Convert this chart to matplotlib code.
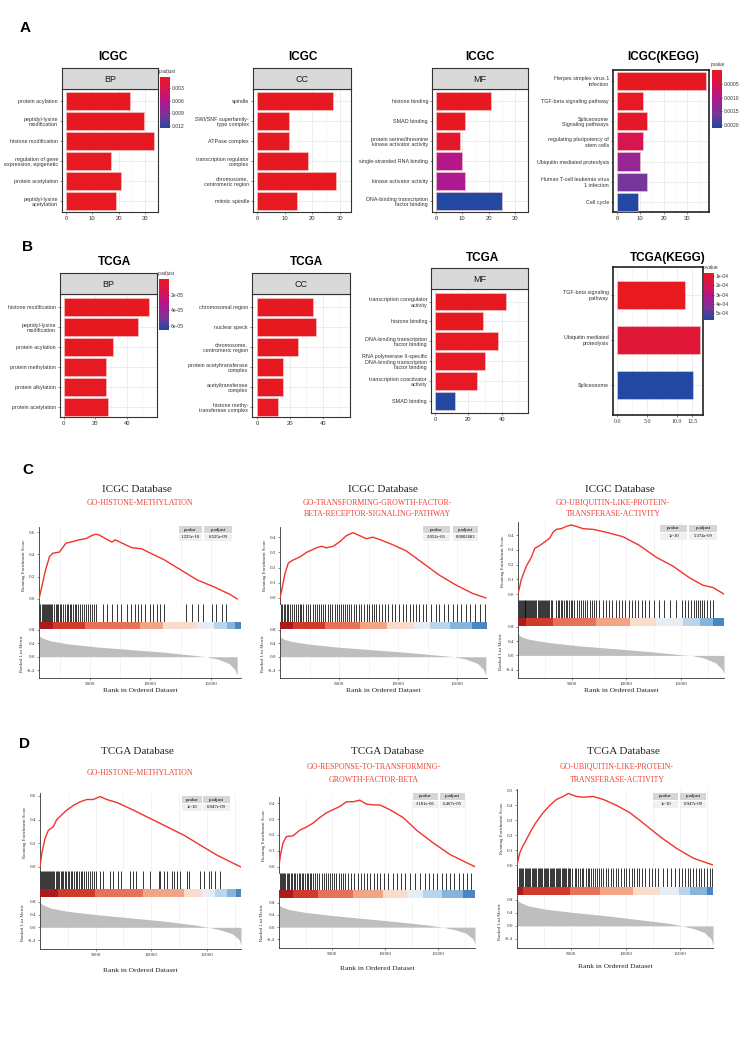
import numpy as np
import matplotlib
matplotlib.use('Agg')
import matplotlib.pyplot as plt
from matplotlib.colors import LinearSegmentedColormap, Normalize
from matplotlib.patches import Rectangle

# ---------------- DATA ----------------
A_BP_terms = ['protein acylation', 'peptidyl-lysine\nmodification', 'histone modification',
              'regulation of gene\nexpression, epigenetic', 'protein acetylation', 'peptidyl-lysine\nacetylation']
A_BP_count = [24.5, 29.5, 33.5, 17, 21, 19]
A_BP_padj = [0.0005, 0.0005, 0.0005, 0.0006, 0.0006, 0.0006]

A_CC_terms = ['spindle', 'SWI/SNF superfamily-\ntype complex', 'ATPase complex',
              'transcription regulator\ncomplex', 'chromosome,\ncentromeric region', 'mitotic spindle']
A_CC_count = [27.5, 11.5, 11.5, 18.5, 28.5, 14.5]
A_CC_padj = [0.0005, 0.0005, 0.0005, 0.0005, 0.0005, 0.0006]

A_MF_terms = ['histone binding', 'SMAD binding', 'protein serine/threonine\nkinase activator activity',
              'single-stranded RNA binding', 'kinase activator activity', 'DNA-binding transcription\nfactor binding']
A_MF_count = [21, 11, 9, 10, 11, 25]
A_MF_padj = [0.0005, 0.0007, 0.0012, 0.0062, 0.0066, 0.0125]

A_KEGG_terms = ['Herpes simplex virus 1\ninfection', 'TGF-beta signaling pathway', 'Spliceosome\nSignaling pathways',
                'regulating pluripotency of\nstem cells', 'Ubiquitin mediated proteolysis',
                'Human T-cell leukemia virus\n1 infection', 'Cell cycle']
A_KEGG_count = [38, 11, 13, 11, 10, 13, 9]
A_KEGG_p = [0.00002, 0.00006, 0.00012, 0.0005, 0.0013, 0.0016, 0.0021]

B_BP_terms = ['histone modification', 'peptidyl-lysine\nmodification', 'protein acylation',
              'protein methylation', 'protein alkylation', 'protein acetylation']
B_BP_count = [54, 47.5, 31, 27, 27, 28]
B_BP_padj = [1e-6, 1e-6, 1e-6, 1.5e-6, 1.5e-6, 2e-6]

B_CC_terms = ['chromosomal region', 'nuclear speck', 'chromosome,\ncentromeric region',
              'protein acetyltransferase\ncomplex', 'acetyltransferase\ncomplex', 'histone methy-\ntransferase complex']
B_CC_count = [34, 36, 25, 16, 16, 13]
B_CC_padj = [1e-6, 1e-6, 1e-6, 1e-6, 1e-6, 1.5e-6]

B_MF_terms = ['transcription coregulator\nactivity', 'histone binding', 'DNA-binding transcription\nfactor binding',
              'RNA polymerase II-specific\nDNA-binding transcription\nfactor binding',
              'transcription coactivator\nactivity', 'SMAD binding']
B_MF_count = [42.5, 29, 38, 30, 25, 12]
B_MF_padj = [1e-6, 1e-6, 1.5e-6, 2e-6, 2e-6, 6.5e-5]

B_KEGG_terms = ['TGF-beta signaling\npathway', 'Ubiquitin mediated\nproteolysis', 'Spliceosome']
B_KEGG_count = [11.3, 13.8, 12.7]
B_KEGG_p = [0.7e-4, 1.3e-4, 5.75e-4]

# GSEA panel data -------------------------------------------------
C1_N = (800, 17185)
C1_es_x = [800, 1343, 1669, 1940, 2483, 3026, 3434, 4112, 4655, 5198, 5470, 5741, 6827, 7099, 8456, 9271,
           11171, 12529, 13886, 15244, 16601, 17185]
C1_es_y = [0, 0.26, 0.38, 0.41, 0.42, 0.50, 0.51, 0.53, 0.54, 0.57, 0.58, 0.575, 0.51, 0.53, 0.46, 0.45,
           0.35, 0.26, 0.17, 0.11, 0.04, 0.0]
C1_hits = [830, 920, 1010, 1090, 1170, 1250, 1330, 1410, 1500, 1590, 1680, 1780, 1880, 2010, 2150, 2240, 2380,
           2520, 2620, 2760, 2900, 3040, 3180, 3280, 3420, 3560, 3700, 3840, 3980, 4120, 4310, 4450, 4600, 4780,
           4970, 5110, 5250, 5400, 6013, 6339, 6692, 7099, 7425, 7913, 8266, 8592, 8809, 9054, 9407, 9814, 10031,
           10357, 10629, 10900, 12746, 13180, 13723, 14131, 14810, 15190, 15652, 15950]
C1_band = [800, 1940, 4520, 8998, 10898, 13613, 14971, 16057, 16736, 17185]
C1_metric_x = [800, 1086, 1753, 3182, 5563, 8421, 11279, 13851, 14613, 15566, 16518, 16994, 17185]
C1_metric_y = [0.62, 0.55, 0.47, 0.38, 0.29, 0.21, 0.13, 0.03, 0.0, -0.07, -0.2, -0.38, -0.55]

C2_N = (0, 17400)
C2_es_x = [0, 140, 421, 702, 1122, 1684, 2245, 3087, 3508, 3928, 4490, 5051, 5612, 6173, 6734, 7296, 7857,
           8418, 9540, 10663, 12066, 13469, 14872, 16275, 17400]
C2_es_y = [0, 0.05, 0.16, 0.23, 0.25, 0.27, 0.30, 0.33, 0.34, 0.33, 0.34, 0.37, 0.41, 0.43, 0.41, 0.39, 0.40,
           0.385, 0.35, 0.31, 0.23, 0.15, 0.085, 0.03, 0.0]
C2_hits = [60, 180, 300, 420, 560, 700, 850, 1000, 1180, 1350, 1500, 1650, 1800, 1950, 2150, 2350, 2550, 2750,
           2950, 3150, 3300, 3450, 3600, 3800, 4000, 4200, 4400, 4600, 4800, 5000, 5150, 5300, 5450, 5600, 5800,
           6000, 6200, 6400, 6600, 6850, 7100, 7300, 7500, 7700, 7900, 8100, 8300, 8550, 8800, 9100, 9400, 9700,
           10000, 10300, 10600, 10900, 11200, 11450, 11700, 12000, 12300, 12700, 13100, 13400, 13800, 14100,
           14500, 14900, 15200, 15600, 16000, 16400, 16800, 17200]
C2_band = [0, 1122, 3788, 6734, 8979, 11224, 12627, 14311, 16135, 17400]
C2_metric_x = [0, 300, 1000, 2500, 5000, 8000, 11000, 13800, 14700, 15700, 16700, 17200, 17400]
C2_metric_y = [0.6, 0.52, 0.45, 0.37, 0.28, 0.2, 0.12, 0.03, 0.0, -0.07, -0.2, -0.38, -0.55]

C3_N = (0, 19000)
C3_es_x = [0, 307, 769, 1230, 1537, 1998, 2459, 2920, 3228, 3535, 3996, 4457, 4918, 5380, 5994, 6917, 8146,
           9683, 11220, 12757, 14294, 15831, 17061, 17983, 19000]
C3_es_y = [0, 0.10, 0.19, 0.25, 0.31, 0.33, 0.355, 0.38, 0.42, 0.44, 0.445, 0.46, 0.47, 0.46, 0.445, 0.44,
           0.42, 0.39, 0.33, 0.25, 0.19, 0.11, 0.06, 0.045, 0.0]
C3_hits = [40, 120, 200, 280, 360, 440, 520, 600, 680, 760, 840, 920, 1000, 1100, 1200, 1300, 1400, 1500, 1600,
           1700, 1800, 1900, 2000, 2100, 2200, 2300, 2400, 2500, 2600, 2700, 2800, 2900, 3000, 3100, 3500, 3650,
           3800, 3950, 4100, 4250, 4400, 4550, 4700, 4850, 5000, 5200, 5400, 5600, 5800, 6000, 6200, 6400, 6600,
           6800, 7000, 7200, 7500, 7800, 8100, 8400, 8700, 9000, 9300, 9600, 9900, 10200, 10500, 10800, 11100,
           11400, 11700, 12100, 12500, 13000, 13500, 14000, 14600, 15100, 15400, 15700, 16000, 16200, 16400,
           16600, 16800, 17000, 17200, 17400, 17700, 18000]
C3_band = [0, 768, 3228, 7224, 10298, 12757, 15216, 16753, 17983, 19000]
C3_metric_x = [0, 300, 1000, 2800, 5500, 8800, 12000, 15000, 16000, 17000, 18200, 18800, 19000]
C3_metric_y = [0.6, 0.52, 0.45, 0.36, 0.27, 0.19, 0.11, 0.02, 0.0, -0.06, -0.2, -0.38, -0.5]

D1_N = (0, 18080)
D1_es_x = [0, 150, 450, 751, 1201, 1502, 1952, 2402, 3003, 3604, 4204, 4805, 5405, 6006, 6907, 8408, 9910,
           11411, 12913, 14414, 15916, 17417, 18080]
D1_es_y = [0, 0.11, 0.24, 0.31, 0.34, 0.40, 0.44, 0.48, 0.52, 0.55, 0.57, 0.57, 0.595, 0.57, 0.545, 0.48,
           0.41, 0.34, 0.27, 0.185, 0.10, 0.03, 0.0]
D1_hits = [40, 130, 220, 300, 390, 480, 560, 650, 740, 830, 920, 1010, 1100, 1200, 1300, 1400, 1500, 1620,
           1750, 1850, 1980, 2100, 2230, 2350, 2480, 2600, 2750, 2900, 3050, 3200, 3350, 3500, 3650, 3800, 3950,
           4100, 4300, 4500, 4700, 4900, 5050, 5405, 5706, 6306, 6607, 7057, 7267, 8108, 8408, 8649, 9309, 9850,
           10661, 10811, 11111, 11411, 11862, 12072, 12312, 12613, 13213, 13363, 14414, 14775, 15165, 15375,
           15766, 16216]
D1_band = [0, 1652, 4955, 9309, 12913, 14565, 15766, 16817, 17658, 18080]
D1_metric_x = [0, 300, 1000, 2500, 5000, 8000, 11000, 14000, 15200, 16200, 17300, 17900, 18080]
D1_metric_y = [0.77, 0.7, 0.6, 0.5, 0.4, 0.3, 0.2, 0.07, 0.0, -0.08, -0.2, -0.38, -0.55]

D2_N = (0, 18440)
D2_es_x = [0, 126, 377, 691, 1319, 1947, 2576, 3204, 3832, 4460, 5088, 5717, 6345, 6973, 7601, 8229, 8858,
           9486, 10428, 11685, 12941, 14511, 16082, 17652, 18440]
D2_es_y = [0, 0.07, 0.15, 0.19, 0.195, 0.23, 0.25, 0.275, 0.31, 0.34, 0.36, 0.38, 0.41, 0.41, 0.42, 0.395,
           0.39, 0.39, 0.36, 0.31, 0.23, 0.15, 0.077, 0.025, 0.0]
D2_hits = [50, 150, 260, 370, 480, 600, 720, 850, 980, 1100, 1250, 1400, 1550, 1700, 1850, 2000, 2150, 2300,
           2450, 2600, 2750, 2900, 3050, 3200, 3400, 3600, 3800, 4000, 4200, 4400, 4600, 4800, 5000, 5200, 5400,
           5600, 5800, 6000, 6250, 6500, 6800, 7100, 7400, 7700, 8000, 8300, 8600, 8900, 9200, 9500, 9900, 10300,
           10700, 11100, 11500, 11900, 12300, 12800, 13300, 13700, 14100, 14500, 14900, 15300, 15700, 16100,
           16500, 16900, 17300, 17700, 18100]
D2_band = [0, 1319, 3675, 6973, 9800, 11999, 13569, 15297, 17338, 18440]
D2_metric_x = [0, 300, 1000, 2500, 5000, 8000, 11000, 14000, 15400, 16500, 17600, 18250, 18440]
D2_metric_y = [0.72, 0.65, 0.57, 0.48, 0.38, 0.28, 0.18, 0.07, 0.0, -0.08, -0.2, -0.38, -0.55]

D3_N = (0, 18020)
D3_es_x = [0, 246, 554, 861, 1322, 1784, 2399, 3014, 3629, 4244, 4705, 5474, 6089, 7011, 7934, 9164, 10394,
           11624, 13161, 14699, 16236, 18020]
D3_es_y = [0, 0.08, 0.13, 0.17, 0.235, 0.29, 0.35, 0.40, 0.44, 0.46, 0.48, 0.46, 0.455, 0.46, 0.44, 0.40,
           0.35, 0.28, 0.19, 0.11, 0.045, 0.0]
D3_hits = [40, 150, 260, 360, 470, 580, 690, 800, 910, 1020, 1130, 1240, 1350, 1460, 1570, 1680, 1790, 1900,
           2010, 2120, 2230, 2340, 2450, 2560, 2670, 2780, 2890, 3000, 3110, 3220, 3330, 3440, 3550, 3660, 3770,
           3880, 3990, 4100, 4210, 4320, 4430, 4540, 4650, 4760, 4900, 5100, 5300, 5450, 5600, 5800, 5950, 6100,
           6300, 6500, 6650, 6800, 7000, 7200, 7400, 7550, 7750, 7950, 8150, 8350, 8600, 8850, 9100, 9300, 9550,
           9800, 10050, 10300, 10550, 10800, 11000, 11250, 11500, 11800, 12100, 12400, 12700, 13000, 13400,
           13800, 14200, 14550, 14900, 15200, 15450, 15700, 15950, 16200, 16450, 16700, 16950, 17200, 17450,
           17700, 17900]
D3_band = [0, 554, 4859, 7626, 10701, 13161, 14852, 15929, 17466, 18020]
D3_metric_x = [0, 300, 1000, 2500, 5000, 8000, 11000, 14000, 15200, 16200, 17200, 17850, 18020]
D3_metric_y = [0.8, 0.72, 0.62, 0.52, 0.42, 0.32, 0.2, 0.08, 0.0, -0.08, -0.2, -0.4, -0.6]

band_colors = ['#A91B1E', '#D23A2C', '#E5735A', '#F2A487', '#FADCCD', '#E8EDF5', '#BAD4EA', '#86B4DA', '#4A86C3']

# ---------------- FIGURE ----------------
W, H = 744, 1052
fig = plt.figure(figsize=(W / 100, H / 100), dpi=100)
fig.patch.set_facecolor('white')

SANS = ['Liberation Sans', 'DejaVu Sans']
NARROW = ['Liberation Sans Narrow', 'Liberation Sans', 'DejaVu Sans']
SERIF = ['Liberation Serif', 'DejaVu Serif']

cmap = LinearSegmentedColormap.from_list('padj', ['#E8191E', '#D81552', '#B0178F', '#7A3699', '#2348A2'])


def px_axes(l, t, r, b):
    return fig.add_axes([l / W, 1 - b / H, (r - l) / W, (b - t) / H])


def ftext(x, y, s, **kw):
    fig.text(x / W, 1 - y / H, s, **kw)


def frect(l, t, r, b, **kw):
    fig.add_artist(Rectangle((l / W, 1 - b / H), (r - l) / W, (b - t) / H,
                             transform=fig.transFigure, **kw))


def bar_panel(box, terms, counts, pvals, vmin, vmax, xlim, xticks, minor, ylim,
              strip=None, strip_box=None, bar_h=0.9, frame_lw=0.8, frame_col='#333333',
              tick_family=SANS):
    l, t, r, b = box
    ax = px_axes(l, t, r, b)
    n = len(terms)
    ypos = np.arange(n, 0, -1)
    cols = cmap(Normalize(vmin, vmax)(np.array(pvals)))
    ax.barh(ypos, counts, height=bar_h, color=cols, edgecolor='#F4D0D0', linewidth=0.4, zorder=3)
    ax.set_xlim(xlim)
    ax.set_ylim(ylim)
    ax.set_yticks(ypos)
    ax.set_yticklabels(terms, fontsize=3.9, linespacing=1.15, family=SANS, color='#333333')
    ax.set_xticks(xticks)
    ax.set_xticks(minor, minor=True)
    ax.set_xticklabels([str(v) if not isinstance(v, float) else f'{v:.1f}' for v in xticks],
                       fontsize=4.2, family=tick_family, color='#333333')
    ax.tick_params(axis='both', length=1.6, width=0.4, pad=1.2, colors='#333333')
    ax.tick_params(axis='x', which='minor', length=0)
    ax.grid(True, which='major', color='#E6E6E6', lw=0.5, zorder=0)
    ax.grid(True, which='minor', axis='x', color='#F0F0F0', lw=0.4, zorder=0)
    ax.set_axisbelow(True)
    for s in ax.spines.values():
        s.set_color(frame_col)
        s.set_linewidth(frame_lw)
    if strip is not None:
        sax = px_axes(*strip_box)
        sax.set_facecolor('#D9D9D9')
        sax.set_xticks([])
        sax.set_yticks([])
        for s in sax.spines.values():
            s.set_color(frame_col)
            s.set_linewidth(frame_lw)
        sax.text(0.5, 0.45, strip, ha='center', va='center', fontsize=6.5, family=NARROW, color='#1A1A1A')
    return ax


def colorbar(box, vmin, vmax, ticks, labels, title):
    l, t, r, b = box
    cax = px_axes(l, t, r, b)
    grad = np.linspace(vmin, vmax, 256).reshape(-1, 1)
    cax.imshow(grad, aspect='auto', cmap=cmap, norm=Normalize(vmin, vmax),
               extent=(0, 1, vmax, vmin), origin='upper')
    cax.set_ylim(vmax, vmin)
    cax.set_xlim(0, 1)
    cax.yaxis.tick_right()
    cax.set_yticks(ticks)
    cax.set_yticklabels(labels, fontsize=3.6, family=SANS, color='#333333')
    cax.tick_params(axis='y', length=1.5, width=0.4, pad=1, colors='#333333', direction='in')
    cax.set_xticks([])
    for s in cax.spines.values():
        s.set_visible(False)
    ftext(l - 1, t - 3, title, fontsize=3.4, family=SANS, color='#333333', va='bottom')


# ---- panel labels ----
ftext(25, 28, 'A', fontsize=11, fontweight='bold', family=SANS, va='center', ha='center')
ftext(27, 247, 'B', fontsize=11, fontweight='bold', family=SANS, va='center', ha='center')
ftext(28, 470, 'C', fontsize=11, fontweight='bold', family=SANS, va='center', ha='center')
ftext(25, 744, 'D', fontsize=11, fontweight='bold', family=SANS, va='center', ha='center')

# ---- A ----
for x, s in [(113, 'ICGC'), (303, 'ICGC'), (480, 'ICGC'), (663, 'ICGC(KEGG)')]:
    ftext(x, 57, s, fontsize=8.5, fontweight='bold', family=NARROW, ha='center', va='center')

bar_panel((62, 89, 158, 212), A_BP_terms, A_BP_count, A_BP_padj, 0.0004, 0.0125,
          (-1.5, 35), [0, 10, 20, 30], [5, 15, 25, 35], (0.45, 6.62), 'BP', (62, 68, 158, 89))
colorbar((160, 77, 170, 128), 0.0004, 0.0125, [0.003, 0.006, 0.009, 0.012],
         ['0.003', '0.006', '0.009', '0.012'], 'p.adjust')
bar_panel((253, 89, 351, 212), A_CC_terms, A_CC_count, A_CC_padj, 0.0004, 0.0125,
          (-1.5, 34), [0, 10, 20, 30], [5, 15, 25], (0.45, 6.62), 'CC', (253, 68, 351, 89))
bar_panel((432, 89, 528, 212), A_MF_terms, A_MF_count, A_MF_padj, 0.0004, 0.0125,
          (-1.5, 35), [0, 10, 20, 30], [5, 15, 25, 35], (0.45, 6.62), 'MF', (432, 68, 528, 89))
bar_panel((613, 70, 709, 212), A_KEGG_terms, A_KEGG_count, A_KEGG_p, 0.0, 0.0021,
          (-1.7, 39.5), [0, 10, 20, 30], [5, 15, 25, 35], (0.5, 7.54), frame_lw=1.2, frame_col='#222222')
colorbar((712, 70, 722, 128), 0.0, 0.0021, [0.0005, 0.0010, 0.0015, 0.0020],
         ['0.0005', '0.0010', '0.0015', '0.0020'], 'pvalue')

# ---- B ----
for x, y, s in [(115, 262, 'TCGA'), (307, 262, 'TCGA'), (482, 258, 'TCGA'), (668, 258, 'TCGA(KEGG)')]:
    ftext(x, y, s, fontsize=8.5, fontweight='bold', family=NARROW, ha='center', va='center')

bar_panel((60, 294, 157, 417), B_BP_terms, B_BP_count, B_BP_padj, 0.0, 6.5e-5,
          (-2.4, 59.3), [0, 20, 40], [10, 30, 50], (0.5, 6.65), 'BP', (60, 273, 157, 294))
colorbar((159, 279, 169, 330), 0.0, 6.5e-5, [2e-5, 4e-5, 6e-5], ['2e-05', '4e-05', '6e-05'], 'p.adjust')
bar_panel((252, 294, 350, 417), B_CC_terms, B_CC_count, B_CC_padj, 0.0, 6.5e-5,
          (-3, 56.4), [0, 20, 40], [10, 30, 50], (0.5, 6.65), 'CC', (252, 273, 350, 294))
bar_panel((431, 289, 528, 413), B_MF_terms, B_MF_count, B_MF_padj, 0.0, 6.5e-5,
          (-2.4, 55.8), [0, 20, 40], [10, 30, 50], (0.4, 6.63), 'MF', (431, 268, 528, 289))
bar_panel((613, 267, 703, 415), B_KEGG_terms, B_KEGG_count, B_KEGG_p, 0.68e-4, 5.75e-4,
          (-0.67, 14.3), [0.0, 5.0, 10.0, 12.5], [2.5, 7.5], (0.33, 3.62), bar_h=0.62,
          frame_lw=1.2, frame_col='#222222', tick_family=SERIF)
colorbar((704, 273, 714, 320), 0.68e-4, 5.75e-4, [1e-4, 2e-4, 3e-4, 4e-4, 5e-4],
         ['1e-04', '2e-04', '3e-04', '4e-04', '5e-04'], 'p.value')


# ---- GSEA ----
def gsea_panel(lay, xr, es_x, es_y, es_ylim, es_ticks, es_labels, hits, band, mx, my, rank_ylim,
               title, title_xy, sub_lines, sub_x, sub_ys, table, xlab_y):
    l, r, t1, b1, b2, b3, b4 = lay
    xticks = [5000, 10000, 15000]
    minor = [2500, 7500, 12500, 17500]
    # ES
    ax1 = px_axes(l, t1, r, b1)
    ax1.plot(es_x, es_y, color='#F2332B', lw=1.0, zorder=3)
    ax1.set_xlim(xr)
    ax1.set_ylim(es_ylim)
    ax1.set_yticks(es_ticks)
    ax1.set_yticklabels(es_labels, fontsize=3.6, family=SERIF, color='#333333')
    ax1.set_xticks(xticks)
    ax1.set_xticks(minor, minor=True)
    ax1.tick_params(axis='x', which='both', length=0, labelbottom=False)
    ax1.tick_params(axis='y', length=1.5, width=0.4, pad=1, colors='#333333')
    ax1.grid(True, which='both', axis='x', color='#EBEBEB', lw=0.4)
    for k in ['top', 'right', 'bottom']:
        ax1.spines[k].set_visible(False)
    ax1.spines['left'].set_linewidth(0.6)
    ax1.spines['left'].set_color('#333333')
    ax1.set_ylabel('Running Enrichment Score', fontsize=3.4, family=SERIF, color='#333333', labelpad=2)
    # hits
    ax2 = px_axes(l, b1, r, b2)
    ax2.vlines(hits, 0, 1, color='black', lw=0.55)
    ax2.set_xlim(xr)
    ax2.set_ylim(0, 1)
    ax2.axis('off')
    # band
    ax3 = px_axes(l, b2, r, b3)
    for i in range(len(band) - 1):
        ax3.axvspan(band[i], band[i + 1], color=band_colors[i], lw=0)
    ax3.set_xlim(xr)
    ax3.axis('off')
    # ranked metric
    ax4 = px_axes(l, b3, r, b4)
    ax4.fill_between(mx, 0, my, color='#BEBEBE', lw=0, zorder=2)
    ax4.set_xlim(xr)
    ax4.set_ylim(rank_ylim)
    ax4.set_yticks([-0.4, 0.0, 0.4, 0.8])
    ax4.set_yticklabels(['-0.4', '0.0', '0.4', '0.8'], fontsize=3.6, family=SERIF, color='#333333')
    ax4.set_xticks(xticks)
    ax4.set_xticks(minor, minor=True)
    ax4.set_xticklabels(['5000', '10000', '15000'], fontsize=3.6, family=SERIF, color='#333333')
    ax4.tick_params(axis='both', which='major', length=1.5, width=0.4, pad=1.5, colors='#333333')
    ax4.tick_params(axis='x', which='minor', length=0)
    ax4.grid(True, which='both', axis='x', color='#EBEBEB', lw=0.4, zorder=0)
    for k in ['top', 'right']:
        ax4.spines[k].set_visible(False)
    for k in ['left', 'bottom']:
        ax4.spines[k].set_linewidth(0.6)
        ax4.spines[k].set_color('#333333')
    ax4.set_ylabel('Ranked List Metric', fontsize=3.4, family=SERIF, color='#333333', labelpad=2)
    # titles
    ftext(title_xy[0], title_xy[1], title, fontsize=8, family=SERIF, ha='center', va='center', color='#222222')
    for s, y in zip(sub_lines, sub_ys):
        ftext(sub_x, y, s, fontsize=5.7, family=SERIF, ha='center', va='center', color='#EE4035')
    ftext((l + r) / 2, xlab_y, 'Rank in Ordered Dataset', fontsize=5.4, family=SERIF, ha='center',
          va='center', color='#222222')
    # p-value table
    (h1l, h1r), (h2l, h2r), ht, hb, pv, pa = table
    frect(h1l, ht, h1r, hb, color='#D6D6D6', lw=0)
    frect(h2l, ht, h2r, hb, color='#D6D6D6', lw=0)
    frect(h1l, hb + 0.8, h1r, hb + 7.5, color='#F0F0F0', lw=0)
    frect(h2l, hb + 0.8, h2r, hb + 7.5, color='#F0F0F0', lw=0)
    ftext((h1l + h1r) / 2, (ht + hb) / 2, 'pvalue', fontsize=3.4, family=SERIF, ha='center', va='center')
    ftext((h2l + h2r) / 2, (ht + hb) / 2, 'p.adjust', fontsize=3.4, family=SERIF, ha='center', va='center')
    ftext((h1l + h1r) / 2, hb + 4.2, pv, fontsize=3.4, family=SERIF, ha='center', va='center')
    ftext((h2l + h2r) / 2, hb + 4.2, pa, fontsize=3.4, family=SERIF, ha='center', va='center')


C_rank_ylim = (-0.63, 0.82)
D_rank_ylim = (-0.68, 0.95)

gsea_panel((39, 241, 527, 604, 622, 629, 678), C1_N, C1_es_x, C1_es_y, (-0.045, 0.645),
           [0, 0.2, 0.4, 0.6], ['0.0', '0.2', '0.4', '0.6'], C1_hits, C1_band, C1_metric_x, C1_metric_y,
           C_rank_ylim, 'ICGC Database', (137, 489), ['GO-HISTONE-METHYLATION'], 140, [503],
           ((179, 202), (204, 232), 526, 533, '1.225e-10', '6.525e-09'), 690)
gsea_panel((280, 487, 527, 604, 622, 629, 678), C2_N, C2_es_x, C2_es_y, (-0.04, 0.467),
           [0, 0.1, 0.2, 0.3, 0.4], ['0.0', '0.1', '0.2', '0.3', '0.4'], C2_hits, C2_band, C2_metric_x,
           C2_metric_y, C_rank_ylim, 'ICGC Database', (383, 489),
           ['GO-TRANSFORMING-GROWTH-FACTOR-', 'BETA-RECEPTOR-SIGNALING-PATHWAY'], 377, [503, 514],
           ((423, 450), (453, 478), 526, 533, '2.052e-05', '0.0002683'), 690)
gsea_panel((518, 724, 522, 600, 618, 626, 678), C3_N, C3_es_x, C3_es_y, (-0.04, 0.49),
           [0, 0.1, 0.2, 0.3, 0.4], ['0.0', '0.1', '0.2', '0.3', '0.4'], C3_hits, C3_band, C3_metric_x,
           C3_metric_y, C_rank_ylim, 'ICGC Database', (620, 489),
           ['GO-UBIQUITIN-LIKE-PROTEIN-', 'TRANSFERASE-ACTIVITY'], 613, [503, 514],
           ((660, 687), (689, 717), 525, 532, '1e-10', '5.374e-09'), 690)

gsea_panel((40, 241, 793, 871, 889, 897, 949), D1_N, D1_es_x, D1_es_y, (-0.034, 0.625),
           [0, 0.2, 0.4, 0.6], ['0.0', '0.2', '0.4', '0.6'], D1_hits, D1_band, D1_metric_x, D1_metric_y,
           D_rank_ylim, 'TCGA Database', (137, 751), ['GO-HISTONE-METHYLATION'], 140, [773],
           ((182, 202), (203, 230), 796, 803, '1e-10', '6.947e-09'), 970)
gsea_panel((279, 475, 797, 873, 890, 898, 948), D2_N, D2_es_x, D2_es_y, (-0.04, 0.44),
           [0, 0.1, 0.2, 0.3, 0.4], ['0.0', '0.1', '0.2', '0.3', '0.4'], D2_hits, D2_band, D2_metric_x,
           D2_metric_y, D_rank_ylim, 'TCGA Database', (387, 751),
           ['GO-RESPONSE-TO-TRANSFORMING-', 'GROWTH-FACTOR-BETA'], 374, [767, 780],
           ((413, 438), (440, 465), 793, 800, '3.181e-06', '6.467e-05'), 968)
gsea_panel((517, 713, 789, 868, 887, 895, 948), D3_N, D3_es_x, D3_es_y, (-0.02, 0.51),
           [0, 0.1, 0.2, 0.3, 0.4, 0.5], ['0.0', '0.1', '0.2', '0.3', '0.4', '0.5'], D3_hits, D3_band,
           D3_metric_x, D3_metric_y, D_rank_ylim, 'TCGA Database', (623, 751),
           ['GO-UBIQUITIN-LIKE-PROTEIN-', 'TRANSFERASE-ACTIVITY'], 617, [767, 780],
           ((653, 678), (680, 706), 793, 800, '1e-10', '6.947e-09'), 966)

fig.savefig('out.png', dpi=100, facecolor='white')
